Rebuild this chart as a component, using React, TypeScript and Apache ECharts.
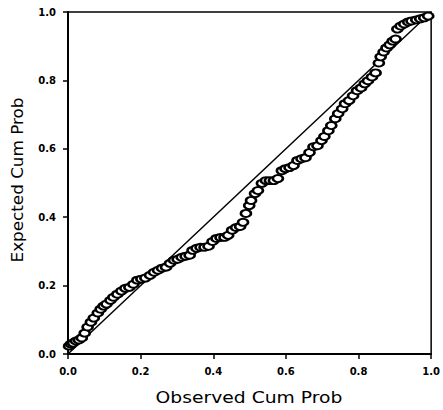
import React, { useEffect, useRef } from "react";
import * as echarts from "echarts";

const observed: number[] = [
  0.003, 0.008, 0.014, 0.022, 0.03, 0.038, 0.046, 0.054, 0.063, 0.071, 0.082, 0.09, 0.098, 0.106,
  0.117, 0.125, 0.136, 0.147, 0.158, 0.169, 0.18, 0.191, 0.202, 0.213, 0.226, 0.237, 0.248, 0.259,
  0.27, 0.281, 0.292, 0.302, 0.313, 0.324, 0.335, 0.343, 0.354, 0.365, 0.376, 0.387, 0.398, 0.409,
  0.42, 0.431, 0.441, 0.452, 0.463, 0.474, 0.482, 0.49, 0.499, 0.504, 0.515, 0.523, 0.534, 0.545,
  0.556, 0.567, 0.578, 0.589, 0.599, 0.61, 0.621, 0.632, 0.643, 0.654, 0.665, 0.676, 0.687, 0.698,
  0.706, 0.717, 0.725, 0.736, 0.744, 0.755, 0.763, 0.774, 0.785, 0.796, 0.807, 0.817, 0.826, 0.837,
  0.847, 0.856, 0.861, 0.869, 0.877, 0.886, 0.894, 0.902, 0.907, 0.916, 0.926, 0.937, 0.946, 0.959,
  0.97, 0.981, 0.992,
];

const expected: number[] = [
  0.023, 0.029, 0.032, 0.038, 0.041, 0.047, 0.061, 0.079, 0.093, 0.105, 0.12, 0.131, 0.14, 0.146,
  0.157, 0.166, 0.175, 0.184, 0.192, 0.195, 0.204, 0.216, 0.219, 0.222, 0.23, 0.239, 0.245, 0.251,
  0.254, 0.265, 0.274, 0.277, 0.283, 0.286, 0.289, 0.303, 0.309, 0.312, 0.312, 0.315, 0.329, 0.338,
  0.341, 0.341, 0.347, 0.362, 0.37, 0.373, 0.385, 0.411, 0.434, 0.449, 0.469, 0.478, 0.499, 0.507,
  0.507, 0.507, 0.513, 0.536, 0.542, 0.545, 0.551, 0.566, 0.571, 0.574, 0.589, 0.606, 0.609, 0.624,
  0.636, 0.653, 0.668, 0.688, 0.703, 0.717, 0.732, 0.741, 0.755, 0.77, 0.778, 0.79, 0.799, 0.81,
  0.822, 0.851, 0.869, 0.883, 0.895, 0.904, 0.915, 0.921, 0.95, 0.959, 0.965, 0.971, 0.974, 0.977,
  0.98, 0.983, 0.988,
];

const refLine: number[][] = [
  [0, 0],
  [1, 1],
];

const xTitle = "Observed Cum Prob";
const yTitle = "Expected Cum Prob";

export default function App() {
  const ref = useRef<HTMLDivElement>(null);
  useEffect(() => {
    if (!ref.current) return;
    const chart = echarts.init(ref.current, undefined, { renderer: "svg" });
    const pts = observed.map((x, i) => [x, expected[i]]);
    const font = "DejaVu Sans";
    const labelStyle = {
      fontFamily: font,
      fontSize: 10,
      fontWeight: "bold",
      color: "#000",
      formatter: (v: number) => v.toFixed(1),
    };
    chart.setOption({
      animation: false,
      backgroundColor: "#fff",
      grid: {
        left: 68,
        right: 9,
        top: 12,
        bottom: 56,
        show: true,
        borderColor: "#000",
        borderWidth: 1.5,
        backgroundColor: "transparent",
      },
      graphic: [
        {
          type: "text",
          x: 249,
          y: 398,
          scaleX: 1.25,
          style: {
            text: xTitle,
            fontFamily: font,
            fontSize: 15,
            fill: "#000",
            align: "center",
            verticalAlign: "middle",
          },
        },
        {
          type: "text",
          x: 18,
          y: 180,
          rotation: Math.PI / 2,
          scaleX: 1.12,
          style: {
            text: yTitle,
            fontFamily: font,
            fontSize: 15,
            fill: "#000",
            align: "center",
            verticalAlign: "middle",
          },
        },
      ],
      xAxis: {
        type: "value",
        min: 0,
        max: 1,
        interval: 0.2,
        axisLine: { show: true, lineStyle: { color: "#000", width: 2 } },
        axisTick: { show: true, inside: false, length: 5, lineStyle: { color: "#000", width: 1.5 } },
        axisLabel: { ...labelStyle, margin: 12 },
        splitLine: { show: false },
      },
      yAxis: {
        type: "value",
        min: 0,
        max: 1,
        interval: 0.2,
        axisLine: { show: true, lineStyle: { color: "#000", width: 2 } },
        axisTick: { show: true, inside: false, length: 5, lineStyle: { color: "#000", width: 1.5 } },
        axisLabel: { ...labelStyle, margin: 12 },
        splitLine: { show: false },
      },
      series: [
        {
          type: "line",
          data: refLine,
          symbol: "none",
          lineStyle: { color: "#000", width: 1.5 },
          z: 1,
        },
        {
          type: "scatter",
          data: pts,
          symbol: "circle",
          symbolSize: [10, 7],
          itemStyle: { color: "#fff", borderColor: "#000", borderWidth: 2.2, opacity: 1 },
          z: 2,
        },
      ],
    });
    return () => chart.dispose();
  }, []);
  return (
    <div
      ref={ref}
      style={{ position: "absolute", left: 0, top: 0, width: 443, height: 410 }}
    />
  );
}
